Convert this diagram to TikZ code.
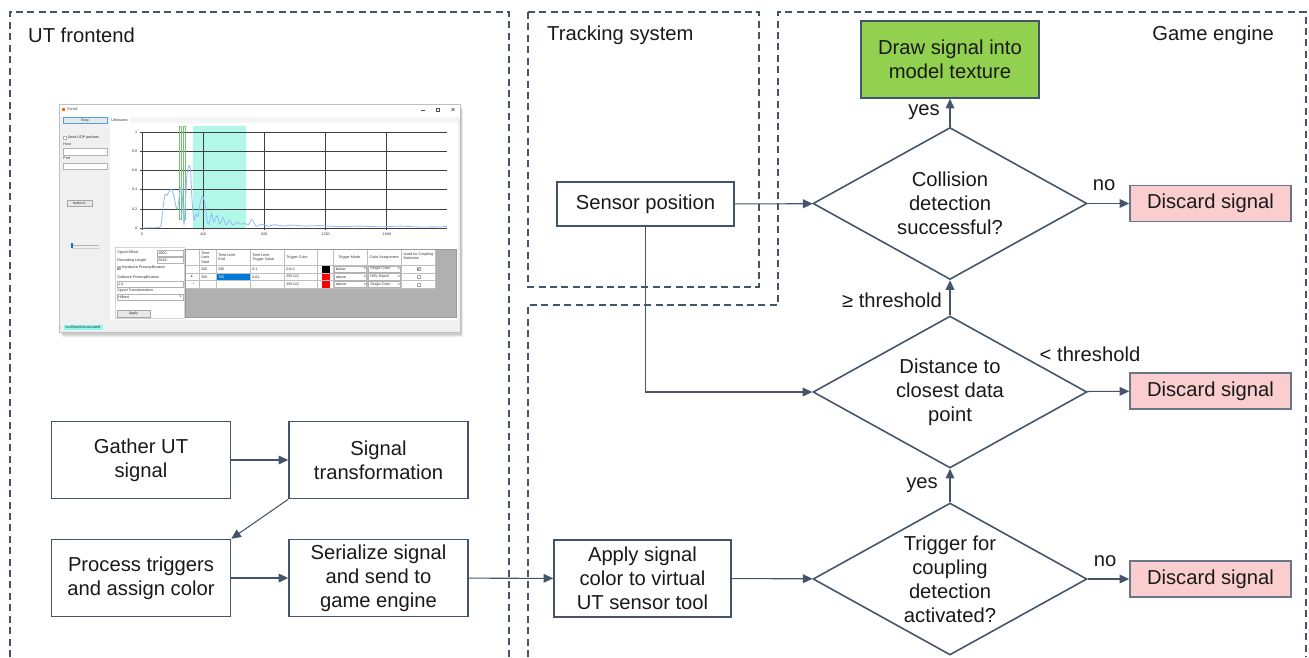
\documentclass[tikz,border=0pt]{standalone}
\usepackage{fontspec}
\setmainfont{Liberation Sans}
\newfontfamily\glyphfont{DejaVu Sans}
\usetikzlibrary{shapes.geometric,arrows.meta,positioning}

\definecolor{edgegray}{RGB}{68,84,106}
\definecolor{okgreen}{RGB}{146,208,80}
\definecolor{discardpink}{RGB}{250,206,206}
\definecolor{winbg}{RGB}{240,240,240}
\definecolor{gatecyan}{RGB}{178,248,232}
\definecolor{sigblue}{RGB}{150,190,250}
\definecolor{selblue}{RGB}{0,120,215}
\definecolor{gatelime}{RGB}{110,195,110}

\begin{document}
\begin{tikzpicture}[x=0.02cm,y=-0.02cm,
  every node/.style={font=\fontsize{11.5}{13.7}\selectfont,text=black!90},
  box/.style={draw=edgegray,line width=0.9pt,align=center,inner sep=1pt,minimum width=3.58cm,minimum height=1.54cm},
  discard/.style={draw=edgegray!80,line width=0.9pt,fill=discardpink,minimum width=3.22cm,minimum height=0.72cm,inner sep=1pt},
  decision/.style={diamond,shape aspect=1.8,draw=edgegray,line width=0.9pt,align=center,inner sep=0pt,minimum width=5.48cm,minimum height=3.04cm},
  flow/.style={draw=edgegray,line width=0.6pt,-{Triangle[length=5.5pt,width=5pt]}},
  region/.style={draw=edgegray,line width=0.9pt,dash pattern=on 4pt off 2.5pt},
  ui/.style={font=\fontsize{2.1}{2.5}\selectfont,inner sep=0pt,text=black!80},
  field/.style={draw=gray!60,fill=white,line width=0.25pt},
  btn/.style={draw=gray!70,fill=gray!18,line width=0.25pt}]

\useasboundingbox (0,0) rectangle (1309,657);

% regions
\draw[region] (10,657) -- (10,12) -- (509,12) -- (509,657);
\draw[region] (528,12) rectangle (759,287);
\draw[region] (528,657) -- (528,305) -- (778,305) -- (778,12) -- (1306,12) -- (1306,657);
\node[anchor=west] (utlabel) at (22,35) {UT frontend};
\node[anchor=west] (tracklabel) at (541,35) {Tracking system};
\node[anchor=east] (gamelabel) at (1280,35) {Game engine};

% screenshot of the UT frontend
\foreach \s in {1,...,4}
  \fill[black,opacity=0.07] (59+\s,104+\s*1.3) rectangle (460+\s*0.8,332+\s*1.3);
\fill[winbg] (59,104) rectangle (460,332);
\fill[white] (59,104) rectangle (460,116.5);
\draw[gray!50,line width=0.3pt] (59,104) rectangle (460,332);
\fill[orange!80!red] (62,107.5) rectangle (65,110.5);
\node[ui,anchor=west] (formtitle) at (67,109.2) {Form1};
\draw[black!70,line width=0.3pt] (421,110) -- (425,110);
\draw[black!70,line width=0.3pt] (436.5,108) rectangle (439.5,111);
\draw[black!70,line width=0.3pt] (451.5,108) -- (454.5,111) (451.5,111) -- (454.5,108);

\draw[btn,draw=selblue!70] (63,117) rectangle (107,123.2);
\node[ui] (stopbtn) at (85,120.1) {Stop};
\fill[gray!8] (110,117) rectangle (458,123);
\fill[white] (110,117) rectangle (129.5,123);
\node[ui] (tabname) at (119.7,120) {Ultrasonic};
\fill[white] (110,123) rectangle (458,320);

\draw[field] (63,136.5) rectangle (66,139.5);
\node[ui,anchor=west] (udplabel) at (67.5,138) {Send UDP packets};
\node[ui,anchor=west] (hostlabel) at (63,144.2) {Host};
\draw[field] (63,148) rectangle (107,155);
\node[ui,anchor=west] (portlabel) at (63,158.5) {Port};
\draw[field] (63,163) rectangle (107,169);
\draw[btn] (67,200) rectangle (92,206);
\node[ui] (btnone) at (79.5,203) {button1};
\draw[gray!60,line width=0.4pt] (72,245.3) -- (99,245.3);
\draw[gray!40,line width=0.25pt] (72,248.3) -- (99,248.3);
\fill[selblue] (70.8,242.8) rectangle (73.2,247.6);

% chart
\fill[gatecyan] (193,126) rectangle (246,228);
\foreach \v [count=\k from 0] in {1,0.8,0.6,0.4,0.2,0} {
  \draw[black!75,line width=0.35pt] (139.5,132+19.2*\k) -- (447,132+19.2*\k);
  \node[ui,anchor=east] (ylab\k) at (137.5,132+19.2*\k) {\v};
}
\foreach \t [count=\k from 0] in {0,410,820,1230,1640} {
  \draw[black!75,line width=0.35pt] (142+61.2*\k,132) -- (142+61.2*\k,230);
  \node[ui] (xlab\k) at (142+61.2*\k,234) {\t};
}
\draw[gatelime,line width=0.3pt] (179.3,126) rectangle (181.3,219);
\draw[gatelime,line width=0.3pt] (182.9,126) rectangle (184.8,219);
\draw[sigblue,line width=0.5pt] plot[smooth,tension=0.5] coordinates {
  (142,228) (150,227.7) (158,227.5) (161,225.1) (163,208.8) (165,194.4) (167,195.4)
  (169,191.5) (171.5,189.6) (174,196.3) (176,206.9) (177.5,208.8) (179,199.2)
  (181,186.7) (182.5,199.2) (184,224.2) (185.5,199.2) (187,175.2) (189,165.6)
  (190.5,170.4) (192,199.2) (194,220.3) (196,213.6) (198,216.5) (200,204)
  (202.5,196.3) (205,204) (207,220.3) (209,224.2) (211.5,213.6) (214,222.2)
  (217,215.5) (220,224.2) (223,217.4) (226,225.1) (229.5,220.3) (233,225.1)
  (237,222.2) (241,224.2) (245,223.2) (248,225.1) (252,219.4) (256,226.1)
  (262,224.2) (268,226.1) (275,224.6) (283,226.1) (292,225.1) (305,226.1)
  (320,225.6) (340,226.6) (360,226.1) (380,226.8) (400,226.1) (420,227) (447,226.6)};

% settings panel
\draw[gray!35,line width=0.3pt] (115,247) rectangle (184,318);
\node[ui,anchor=west] (offsetlabel) at (117,253) {Signal Offset};
\draw[field] (157,250) rectangle (183,256);
\node[ui,anchor=west] (offsetval) at (158,253) {1600};
\node[ui,anchor=west] (lengthlabel) at (117,260.5) {Recording Length};
\draw[field] (157,257.5) rectangle (183,263.5);
\node[ui,anchor=west] (lengthval) at (158,260.5) {2048};
\draw[field] (117,266.5) rectangle (120,269.5);
\draw[black!70,line width=0.25pt] (117.6,268) -- (118.4,269) -- (119.6,267);
\node[ui,anchor=west] (hwlabel) at (121.5,268) {Hardware Preamplification};
\node[ui,anchor=west] (swlabel) at (117,277.2) {Software Preamplification};
\draw[field] (117,281) rectangle (183,287);
\node[ui,anchor=west] (swval) at (118,284) {1.0};
\node[ui,anchor=west] (translabel) at (117,290.8) {Signal Transformation};
\draw[field] (117,294) rectangle (183,300);
\node[ui,anchor=west] (transval) at (118,297) {Hilbert};
\node[ui] (transarrow) at (180.5,297) {v};
\draw[btn] (117,310) rectangle (150,317);
\node[ui] (applybtn) at (133.5,313.5) {Apply};

% trigger table
\fill[gray!62] (185,249) rectangle (456,317.5);
\draw[gray!80,line width=0.3pt] (185,249) rectangle (456,317.5);
\fill[white] (185.7,250) rectangle (435,288);
\fill[selblue] (216,273) rectangle (250,280.5);
\fill[black] (321.5,265.7) rectangle (329.5,272.5);
\fill[red] (321.5,273.4) rectangle (329.5,280);
\fill[red] (321.5,280.9) rectangle (329.5,287.6);
\foreach \y in {265,273,280.5,288}
  \draw[gray!50,line width=0.25pt] (185.7,\y) -- (435,\y);
\foreach \x in {199.3,216,250,284,317.7,333.3,367.7,401.7,435}
  \draw[gray!50,line width=0.25pt] (\x,250) -- (\x,288);
\node[ui,anchor=north west,align=left] (hstart) at (201,251.3) {Time\\Limit\\Start};
\node[ui,anchor=north west,align=left] (hend) at (218,253) {Time Limit\\End};
\node[ui,anchor=north west,align=left] (hvalue) at (252,253) {Time Limit\\Trigger Value};
\node[ui,anchor=west] (hcolor) at (286,257.7) {Trigger Color};
\node[ui,anchor=west] (hmode) at (338,257.7) {Trigger Mode};
\node[ui,anchor=west] (hassign) at (369.3,257.7) {Color Assignment};
\node[ui,anchor=north west,align=left] (hused) at (403.3,252) {Used for Coupling\\Detection};
\foreach \y/\a/\c/\d/\m/\s [count=\r] in
  {269/260/0.1/0;0;0/below/Single Color,
   276.8/350/0.01/255;0;0/above/HSV Depth,
   284.3///255;0;0/above/Single Color} {
  \node[ui,anchor=west] (ra\r) at (201,\y) {\a};
  \node[ui,anchor=west] (rc\r) at (252,\y) {\c};
  \node[ui,anchor=west] (rd\r) at (286,\y) {\d};
  \draw[gray!60,line width=0.25pt] (334.3,\y-3.1) rectangle (366.7,\y+3.1);
  \node[ui,anchor=west] (rm\r) at (335.5,\y) {\m};
  \node[ui] (rmv\r) at (364.8,\y) {v};
  \draw[gray!60,line width=0.25pt] (368.7,\y-3.1) rectangle (400.7,\y+3.1);
  \node[ui,anchor=west] (rs\r) at (370,\y) {\s};
  \node[ui] (rsv\r) at (398.8,\y) {v};
  \draw[gray!70,line width=0.25pt] (416.8,\y-1.5) rectangle (419.8,\y+1.5);
}
\node[ui,anchor=west] (rb1) at (218,269) {295};
\node[ui,anchor=west,text=white] (rb2) at (218,276.8) {700};
\draw[black!70,line width=0.25pt] (417.4,269) -- (418.2,270) -- (419.3,268);
\node[ui,font=\fontsize{2.1}{2.5}\glyphfont] (rowmark2) at (192,276.8) {▸};
\node[ui] (rowmark3) at (193.5,284.5) {*};

% status strip
\node[ui] (grip) at (60.5,327.5) {:};
\fill[gatecyan!80!cyan] (63.5,324.6) rectangle (103,330.2);
\node[ui] (statuslabel) at (83.2,327.4) {toolStripStatusLabel1};

% UT frontend flow
\node[box] (gather) at (141,460) {Gather UT\\signal};
\node[box] (transform) at (378.5,460) {Signal\\transformation};
\node[box] (process) at (141,578) {Process triggers\\and assign color};
\node[box] (serialize) at (378.5,578) {Serialize signal\\and send to\\game engine};

% tracking system
\node[box,minimum width=3.54cm,minimum height=0.88cm] (sensor) at (645.5,204) {Sensor position};

% game engine
\node[box,minimum width=3.54cm] (apply) at (642.5,578.5) {Apply signal\\color to virtual\\UT sensor tool};
\node[decision] (trigger) at (950,579) {Trigger for\\coupling\\detection\\activated?};
\node[decision] (distance) at (950,392) {Distance to\\closest data\\point};
\node[decision] (collision) at (950,203.5) {Collision\\detection\\successful?};
\node[box,fill=okgreen,minimum width=3.56cm] (texture) at (950,59.5) {Draw signal into\\model texture};
\node[discard] (discardA) at (1210.5,203.5) {Discard signal};
\node[discard] (discardB) at (1210.5,391) {Discard signal};
\node[discard] (discardC) at (1210.5,579) {Discard signal};

\draw[flow] (gather) -- (transform);
\draw[flow] (transform.south west) -- (process.north east);
\draw[flow] (process) -- (serialize);
\draw[flow] (serialize) -- (apply);
\draw[flow] (apply) -- (trigger);
\draw[flow] (trigger) -- (distance);
\draw[flow] (distance) -- (collision);
\draw[flow] (collision) -- (texture);
\draw[flow] (sensor) -- (collision);
\draw[flow] (sensor.south) |- (distance.west);
\draw[flow] (collision) -- (discardA);
\draw[flow] (distance) -- (discardB);
\draw[flow] (trigger) -- (discardC);

\node (yesA) at (924,112) {yes};
\node (noA) at (1104,185) {no};
\node (geq) at (892,300) {≥ threshold};
\node (less) at (1090,354) {< threshold};
\node (yesB) at (922,485) {yes};
\node (noB) at (1105,561) {no};

\end{tikzpicture}
\end{document}
